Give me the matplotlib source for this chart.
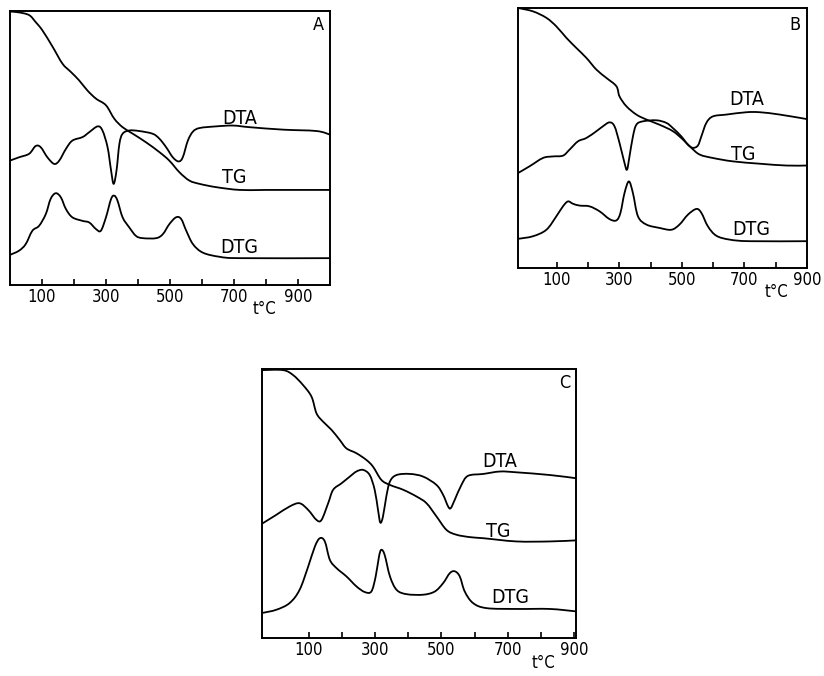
import numpy as np
import matplotlib.pyplot as plt
from matplotlib.path import Path
from matplotlib.patches import PathPatch

# --- Panel A -------------------------------------------------------------
a_tg_t = [0, 28, 60, 80, 101, 133, 164, 190, 216, 242, 269, 300, 326, 352, 384,
          425, 467, 498, 530, 561, 593, 645, 718, 802, 1000]
a_tg = [99.8, 99.5, 98.5, 96, 93, 87, 80.8, 77.8, 74.7, 71, 68, 65.6, 60.7, 57.6,
        55.2, 52.1, 48.5, 45.4, 41.1, 38.1, 36.9, 35.7, 34.7, 34.7, 34.7]

a_dta_t = [0, 28, 60, 80, 96, 117, 138, 154, 175, 195, 227, 248, 274, 289, 305,
           316, 324, 333, 342, 352, 373, 404, 446, 467, 488, 509, 527, 540, 556,
           572, 593, 645, 697, 749, 854, 958, 1000]
a_dta = [45.4, 46.6, 47.9, 50.7, 50.3, 46.6, 44.2, 45.4, 49.7, 52.7, 54.0, 55.8,
         57.9, 56.4, 50.3, 41.8, 36.9, 41.8, 51.5, 55.2, 56.4, 56.2, 55.2, 53.4,
         50.3, 46.6, 45.1, 46.6, 52.7, 56.0, 57.3, 57.9, 58.2, 57.6, 56.7, 56.2,
         54.9]

a_dtg_t = [0, 28, 49, 70, 91, 112, 127, 143, 159, 175, 195, 227, 248, 269, 284,
           300, 316, 326, 336, 352, 373, 394, 415, 457, 478, 498, 519, 535, 551,
           572, 603, 655, 718, 1000]
a_dtg = [11.0, 12.5, 14.9, 19.8, 21.6, 25.9, 31.4, 33.5, 32.0, 27.7, 24.7, 23.4,
         22.8, 20.4, 19.8, 24.7, 31.4, 32.6, 30.8, 24.7, 21.0, 17.9, 17.1, 17.1,
         18.6, 22.2, 24.7, 24.1, 19.8, 14.9, 11.8, 10.3, 9.8, 9.8]

# --- Panel B -------------------------------------------------------------
b_tg_t = [-25, 23, 66, 98, 130, 162, 194, 226, 258, 290, 300, 322, 354, 386,
          428, 471, 503, 530, 557, 599, 663, 749, 834, 898]
b_tg = [100, 98.7, 96.2, 92.9, 88.5, 84.6, 80.8, 76.3, 73.1, 69.9, 66.0, 62.2,
        59.0, 57.1, 55.1, 52.6, 49.4, 46.2, 43.6, 42.3, 41.0, 40.1, 39.4, 39.4]

b_dta_t = [-25, 12, 55, 87, 119, 140, 167, 194, 226, 247, 268, 284, 300, 316,
           324, 332, 343, 354, 375, 418, 450, 471, 498, 519, 535, 551, 562, 578,
           599, 642, 706, 749, 813, 898]
b_dta = [36.5, 39.1, 42.3, 42.9, 43.2, 45.5, 48.7, 50.0, 52.6, 54.5, 56.0, 54.5,
         48.1, 40.4, 37.8, 42.9, 50.6, 55.1, 56.4, 56.8, 55.8, 53.8, 50.6, 47.4,
         46.2, 47.1, 50.6, 55.8, 58.3, 59.0, 59.9, 59.9, 59.0, 57.3]

b_dtg_t = [-25, 23, 66, 98, 119, 135, 151, 172, 204, 236, 268, 290, 303, 316,
           330, 343, 359, 386, 428, 466, 492, 519, 546, 562, 583, 610, 653, 717,
           898]
b_dtg = [11.2, 12.2, 14.7, 19.9, 23.7, 25.6, 24.7, 24.0, 23.7, 21.8, 18.8, 18.3,
         21.2, 28.8, 33.3, 28.8, 19.9, 16.7, 15.4, 14.7, 16.7, 20.5, 22.7, 21.2,
         16.0, 12.4, 10.9, 10.3, 10.3]

# --- Panel C -------------------------------------------------------------
c_tg_t = [-40, 23, 53, 83, 109, 124, 144, 169, 194, 214, 244, 274, 294, 319, 345,
          385, 425, 455, 485, 515, 545, 586, 626, 726, 826, 905]
c_tg = [99.6, 99.6, 97.8, 94.1, 89.7, 83.5, 80.4, 77.4, 73.6, 70.5, 68.7, 66.2,
        63.7, 58.8, 56.9, 55.1, 52.6, 50.1, 45.2, 40.2, 38.4, 37.5, 37.1, 35.9,
        35.9, 36.3]

c_dta_t = [-40, 3, 43, 73, 99, 124, 139, 159, 174, 199, 224, 244, 264, 284, 299,
           309, 316, 324, 334, 345, 365, 405, 445, 485, 505, 520, 528, 540, 560,
           580, 626, 676, 726, 826, 905]
c_dta = [42.5, 45.8, 48.9, 50.1, 47.6, 43.9, 43.9, 50.1, 55.1, 57.5, 60.0, 61.9,
         62.5, 60.6, 55.1, 47.6, 42.9, 45.2, 52.6, 58.2, 60.6, 61.0, 60.0, 56.9,
         53.2, 48.9, 48.3, 51.4, 56.9, 60.3, 61.0, 61.9, 61.6, 60.6, 59.4]

c_dtg_t = [-40, 3, 43, 73, 99, 119, 134, 149, 164, 184, 214, 244, 269, 289, 302,
           312, 319, 329, 345, 365, 395, 445, 480, 505, 525, 540, 555, 570, 595,
           636, 726, 826, 905]
c_dtg = [9.3, 10.5, 13.0, 17.9, 26.6, 34.0, 37.1, 35.9, 29.1, 26.0, 22.9, 19.2,
         17.1, 17.3, 22.9, 30.3, 32.8, 30.9, 22.9, 17.9, 16.3, 16.1, 17.3, 20.4,
         24.1, 24.8, 22.9, 17.3, 13.0, 11.1, 10.8, 10.8, 9.9]

tick_values = [100, 200, 300, 400, 500, 600, 700, 800, 900]
tick_labels = ['100', '', '300', '', '500', '', '700', '', '900']
curve_names = ['DTA', 'TG', 'DTG']

FONT = dict(family='DejaVu Sans', stretch='condensed')


def smooth_path(t, v):
    # кривая Безье через прочитанные точки (только способ отрисовки линии)
    pts = np.column_stack([t, v]).astype(float)
    n = len(pts)
    verts = [pts[0]]
    codes = [Path.MOVETO]
    for i in range(n - 1):
        p0 = pts[max(i - 1, 0)]
        p1 = pts[i]
        p2 = pts[i + 1]
        p3 = pts[min(i + 2, n - 1)]
        verts += [p1 + (p2 - p0) / 6, p2 - (p3 - p1) / 6, p2]
        codes += [Path.CURVE4] * 3
    return Path(verts, codes)


def draw_panel(ax, curves, xlim, letter, letter_pos, name_pos, tc_pos):
    for t, v in curves:
        ax.add_patch(PathPatch(smooth_path(t, v), fill=False, edgecolor='black',
                               lw=1.3, joinstyle='round', capstyle='round'))
    ax.set_xlim(*xlim)
    ax.set_ylim(0, 100)
    ax.set_xticks(tick_values)
    ax.set_xticklabels(tick_labels, fontsize=12, **FONT)
    ax.tick_params(axis='x', direction='in', length=4, width=1.2, pad=2)
    ax.set_yticks([])
    for sp in ax.spines.values():
        sp.set_linewidth(1.4)
    for name, (x, y) in zip(curve_names, name_pos):
        ax.text(x, y, name, fontsize=14, ha='center', va='center', **FONT)
    ax.text(letter_pos[0], letter_pos[1], letter, fontsize=13, ha='center',
            va='center', **FONT)
    ax.text(tc_pos[0], tc_pos[1], 't°C', fontsize=12, ha='center', va='center',
            transform=ax.transAxes, **FONT)


fig = plt.figure(figsize=(8.24, 6.76), dpi=100)

ax_a = fig.add_axes([0.0121, 0.5784, 0.3883, 0.4053])
draw_panel(ax_a, [(a_tg_t, a_tg), (a_dta_t, a_dta), (a_dtg_t, a_dtg)],
           (0, 1000), 'A', (963, 94.9),
           [(718, 60.7), (702, 39.3), (718, 13.7)], (0.797, -0.088))

ax_b = fig.add_axes([0.6286, 0.6036, 0.3507, 0.3846])
draw_panel(ax_b, [(b_tg_t, b_tg), (b_dta_t, b_dta), (b_dtg_t, b_dtg)],
           (-25, 900), 'B', (861, 93.6),
           [(706, 64.7), (695, 43.6), (722, 14.7)], (0.896, -0.092))

ax_c = fig.add_axes([0.3180, 0.0562, 0.3811, 0.3979])
draw_panel(ax_c, [(c_tg_t, c_tg), (c_dta_t, c_dta), (c_dtg_t, c_dtg)],
           (-40, 905), 'C', (872, 94.7),
           [(676, 65.6), (671, 39.6), (706, 14.9)], (0.895, -0.093))

fig.savefig('out.png', dpi=100)
